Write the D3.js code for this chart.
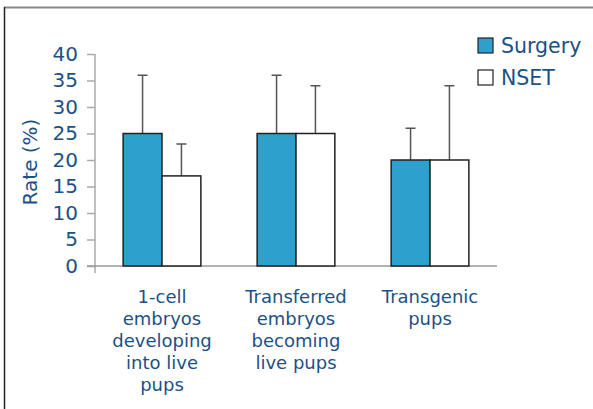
<!DOCTYPE html>
<html>
	<head>
		<meta charset="utf-8">
		<title></title>
		<script src="https://d3js.org/d3.v7.min.js"></script>
		<style>
			body { margin: 0; background: #fff; }
			text { font-family: "DejaVu Sans", sans-serif; fill: #1b5186; }
		</style>
	</head>
	<body>

		<div class="main_div"></div>
		<script>

			// Data
			var categories = ["1-cell embryos developing into live pups", "Transferred embryos becoming live pups", "Transgenic pups"];
			var categoryLines = [["1-cell", "embryos", "developing", "into live", "pups"], ["Transferred", "embryos", "becoming", "live pups"], ["Transgenic", "pups"]];
			var seriesNames = ["Surgery", "NSET"];
			var surgery = [25, 25, 20];
			var surgeryErr = [36, 36, 26];
			var nset = [17, 25, 20];
			var nsetErr = [23, 34, 34];
			var yTicks = [0, 5, 10, 15, 20, 25, 30, 35, 40];

			var colors = {"Surgery": "#2ea0cd", "NSET": "#ffffff"};

			var width = 593, height = 409;
			var svg = d3.select(".main_div").append("svg")
				.attr("width", width).attr("height", height);

			// frame
			svg.append("line").attr("x1", 4).attr("x2", width).attr("y1", 7.5).attr("y2", 7.5)
				.attr("stroke", "#8a8a8a").attr("stroke-width", 2);
			svg.append("line").attr("x1", 4.5).attr("x2", 4.5).attr("y1", 7).attr("y2", height)
				.attr("stroke", "#222").attr("stroke-width", 1.5);

			// Scales
			var x0 = d3.scaleBand().domain(categories).range([95, 497]).paddingInner(0.42).paddingOuter(0.21);
			var x1 = d3.scaleBand().domain(seriesNames).range([0, x0.bandwidth()]);
			var y = d3.scaleLinear().domain([0, 40]).range([266, 54]);

			// y axis
			var yAxis = d3.axisLeft(y).tickValues(yTicks).tickSize(8).tickPadding(9);
			var yG = svg.append("g").attr("transform", "translate(95,0)").call(yAxis);
			yG.select(".domain").remove();
			yG.append("line").attr("x1", 0).attr("x2", 0).attr("y1", 54).attr("y2", 273)
				.attr("stroke", "#aaa").attr("stroke-width", 1.5);
			yG.selectAll(".tick line").attr("stroke", "#aaa").attr("stroke-width", 1.5);
			yG.selectAll(".tick text").style("font-family", "DejaVu Sans").style("font-size", "20px").attr("fill", "#1b5186");

			// x axis line
			svg.append("line").attr("x1", 87).attr("x2", 497).attr("y1", y(0)).attr("y2", y(0))
				.attr("stroke", "#999").attr("stroke-width", 1.5);

			// bars
			var rows = categories.map(function(c, i) {
				return [
					{cat: c, key: "Surgery", v: surgery[i], e: surgeryErr[i]},
					{cat: c, key: "NSET", v: nset[i], e: nsetErr[i]}
				];
			});
			var groups = svg.selectAll(".grp").data(rows).enter().append("g")
				.attr("transform", function(d, i) { return "translate(" + x0(categories[i]) + ",0)"; });

			// error bars
			groups.selectAll(".err").data(function(d) { return d; }).enter().append("path")
				.attr("d", function(d) {
					var cx = x1(d.key) + x1.bandwidth() / 2;
					return "M" + cx + "," + y(d.v) + "V" + y(d.e) + "M" + (cx - 5) + "," + y(d.e) + "H" + (cx + 5);
				})
				.attr("stroke", "#555").attr("stroke-width", 1.5).attr("fill", "none");

			groups.selectAll("rect").data(function(d) { return d; }).enter().append("rect")
				.attr("x", function(d) { return x1(d.key); })
				.attr("y", function(d) { return y(d.v); })
				.attr("width", x1.bandwidth())
				.attr("height", function(d) { return y(0) - y(d.v); })
				.attr("fill", function(d) { return colors[d.key]; })
				.attr("stroke", "#222").attr("stroke-width", 1.5);

			// category labels
			categories.forEach(function(c, i) {
				var t = svg.append("text").attr("text-anchor", "middle")
					.attr("x", x0(c) + x0.bandwidth() / 2).attr("y", 303)
					.style("font-size", "18px");
				categoryLines[i].forEach(function(l, j) {
					t.append("tspan").attr("x", x0(c) + x0.bandwidth() / 2).attr("dy", j ? 22 : 0).text(l);
				});
			});

			// y title
			svg.append("text").attr("transform", "translate(37,162) rotate(-90)")
				.attr("text-anchor", "middle").style("font-size", "20px").text("Rate (%)");

			// legend
			var leg = svg.selectAll(".leg").data(seriesNames).enter().append("g")
				.attr("transform", function(d, i) { return "translate(478," + (38 + i * 32) + ")"; });
			leg.append("rect").attr("width", 15).attr("height", 15)
				.attr("fill", function(d) { return colors[d]; })
				.attr("stroke", "#222").attr("stroke-width", 1.2);
			leg.append("text").attr("x", 23).attr("y", 15).style("font-size", "20.5px").text(function(d) { return d; });

		</script>
	</body>
</html>
